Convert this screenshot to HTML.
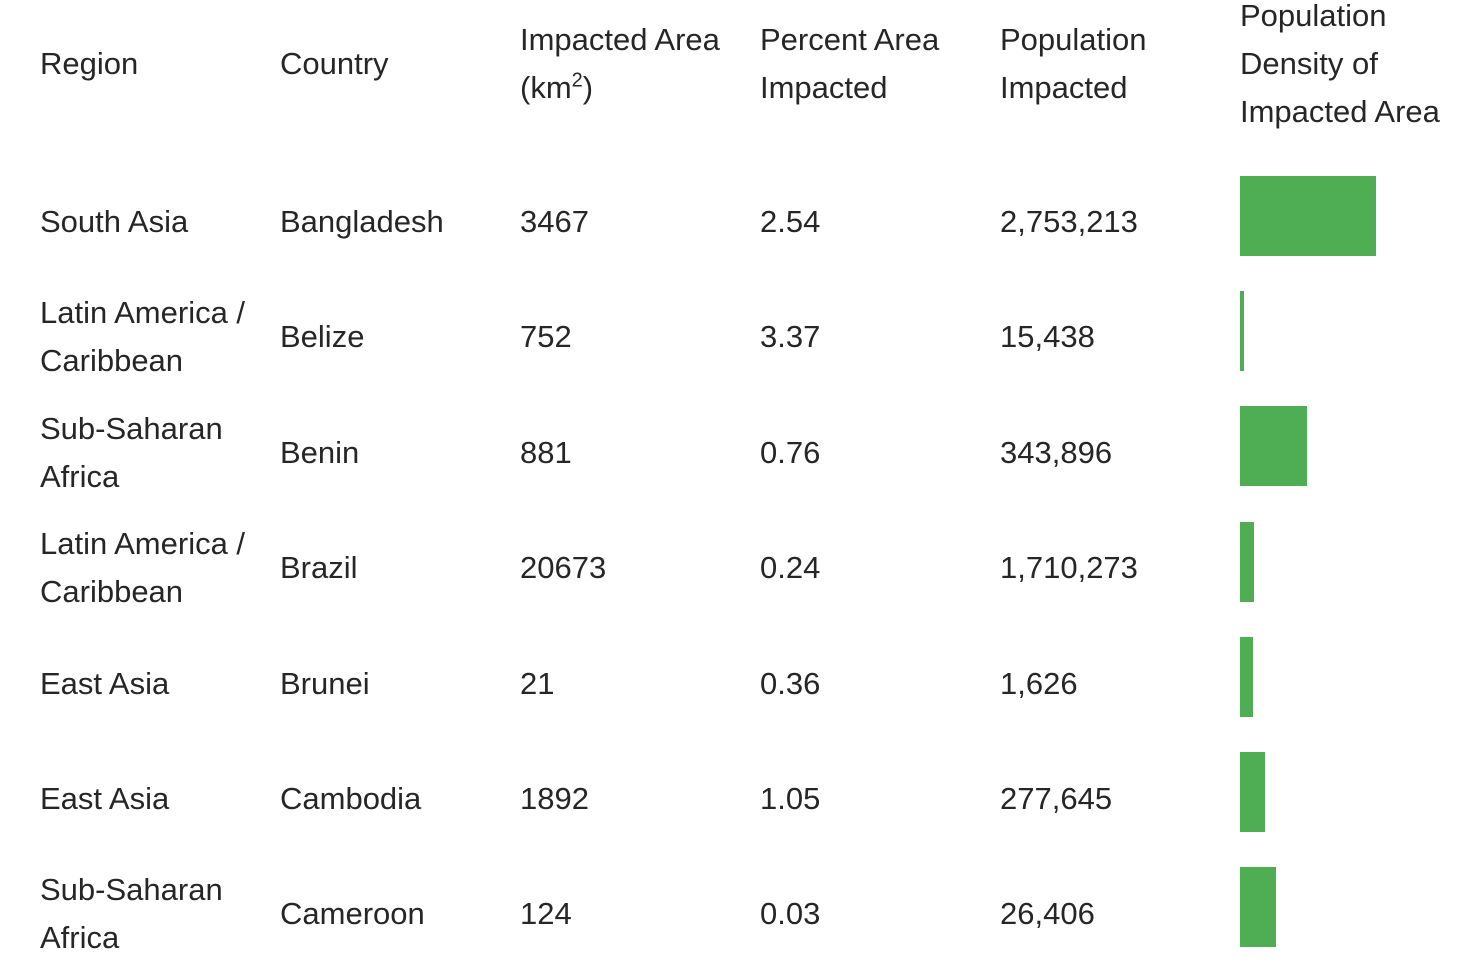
<!DOCTYPE html>
<html><head><meta charset="utf-8"><style>
body{margin:0;width:1480px;height:970px;background:#fff;overflow:hidden;font-family:"Liberation Sans",sans-serif;color:#262626;}
.c{position:absolute;font-size:31px;line-height:48px;transform:translateY(-50%);white-space:nowrap;}
.bar{position:absolute;height:80px;background:#4fae53;}
sup{font-size:20px;line-height:0;}
</style></head><body>
<div id="t"></div>
<script>
const regions=["South Asia","Latin America /<br>Caribbean","Sub-Saharan<br>Africa","Latin America /<br>Caribbean","East Asia","East Asia","Sub-Saharan<br>Africa"];
const countries=["Bangladesh","Belize","Benin","Brazil","Brunei","Cambodia","Cameroon"];
const areas=[3467,752,881,20673,21,1892,124];
const percents=["2.54","3.37","0.76","0.24","0.36","1.05","0.03"];
const populations=[2753213,15438,343896,1710273,1626,277645,26406];
const root=document.getElementById('t');
const cols=[40,280,520,760,1000,1240];
const headers=["Region","Country","Impacted Area<br>(km<sup>2</sup>)","Percent Area<br>Impacted","Population<br>Impacted","Population<br>Density of<br>Impacted Area"];
function cell(x,y,html,name){const d=document.createElement('div');d.className='c';d.style.left=x+'px';d.style.top=y+'px';d.innerHTML=html;


root.appendChild(d);}
headers.forEach((h,i)=>cell(cols[i],64,h,'header-'+i));
const dens=populations.map((p,i)=>p/areas[i]);
const maxD=Math.max(...dens);
const barMax=136;
countries.forEach((c,i)=>{
 const y=222+i*115.4;
 cell(cols[0],y,regions[i],'region-cell');
 cell(cols[1],y,c,'country-cell');
 cell(cols[2],y,String(areas[i]),'area-cell');
 cell(cols[3],y,percents[i],'percent-cell');
 cell(cols[4],y,populations[i].toLocaleString('en-US'),'population-cell');
 const b=document.createElement('div');b.className='bar';
 b.style.left=cols[5]+'px';b.style.top=(176+i*115.2)+'px';
 b.style.width=Math.max(3,dens[i]/maxD*barMax)+'px';
 
 
 root.appendChild(b);
});
</script>
</body></html>
